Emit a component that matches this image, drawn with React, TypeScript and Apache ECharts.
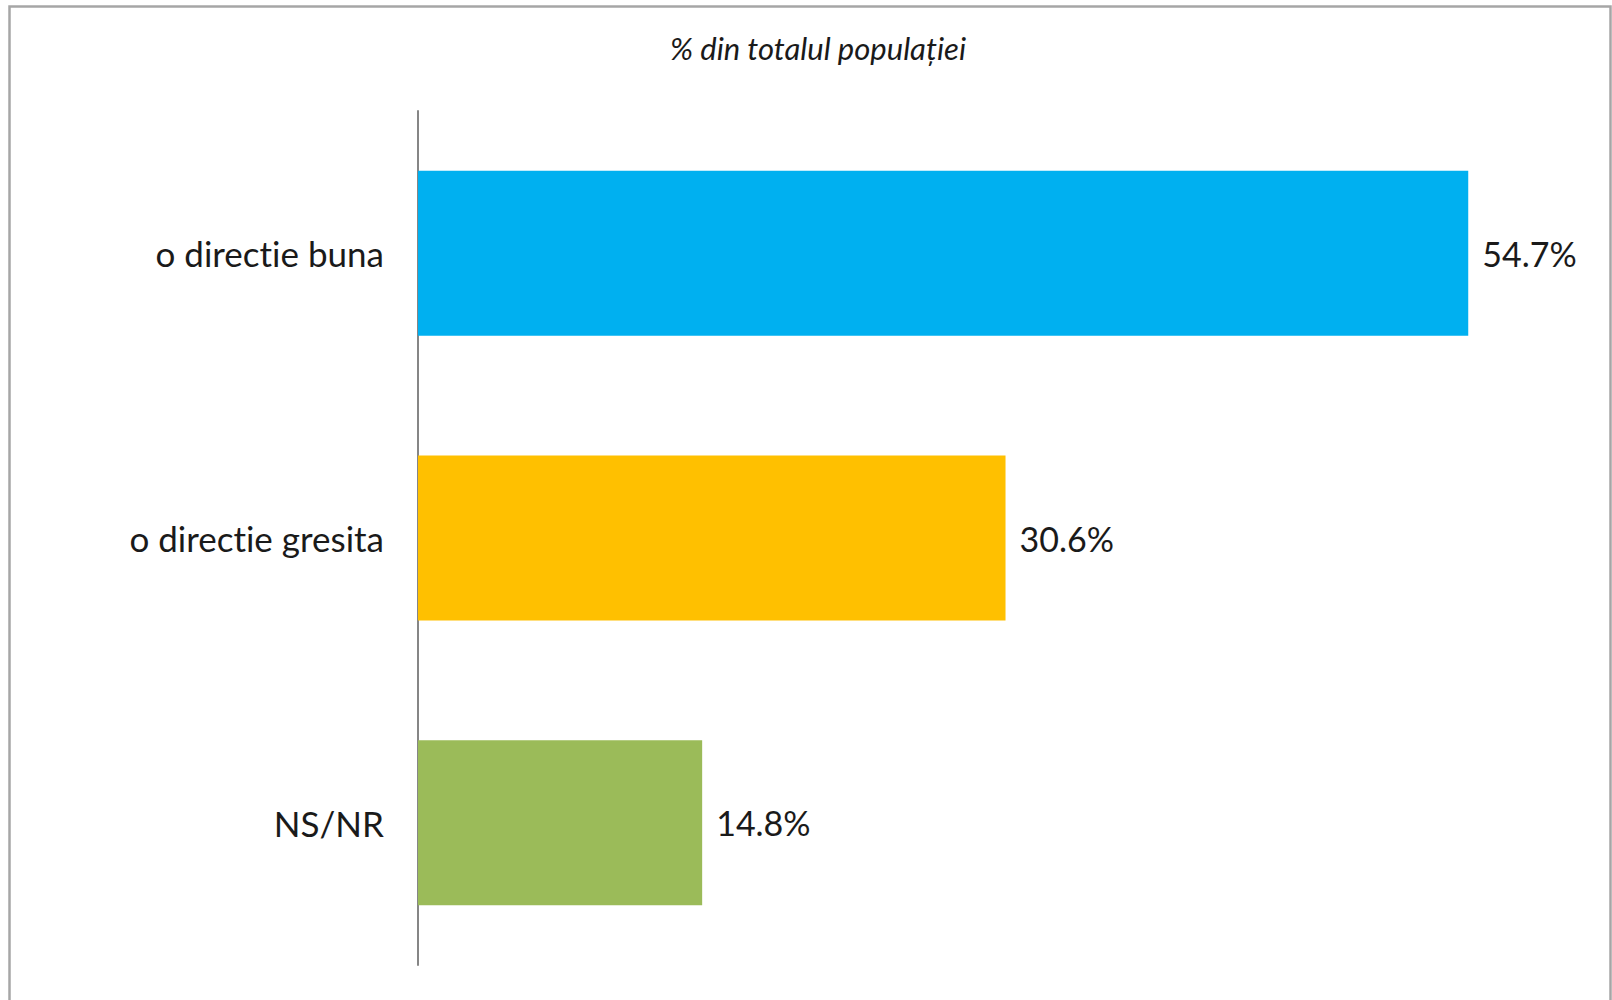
import React, { useEffect, useRef } from "react";
import * as echarts from "echarts";

const categories = ["o directie buna", "o directie gresita", "NS/NR"];
const values = [54.7, 30.6, 14.8];
const barColors = ["#00B0F0", "#FFC000", "#9BBB59"];
const titleText = "% din totalul populației";

export default function App() {
  const ref = useRef<HTMLDivElement>(null);
  useEffect(() => {
    if (!ref.current) return;
    const chart = echarts.init(ref.current, undefined, { renderer: "svg" });
    const font = "Lato, 'Noto Sans', sans-serif";
    chart.setOption({
      animation: false,
      backgroundColor: "#ffffff",
      title: {
        text: titleText,
        left: 813,
        top: 27,
        textAlign: "center",
        textStyle: {
          fontFamily: font,
          fontStyle: "italic",
          fontWeight: "normal",
          fontSize: 31,
          color: "#1a1a1a",
        },
      },
      graphic: [
        {
          type: "rect",
          shape: { x: 9.5, y: 6.5, width: 1601, height: 1010 },
          style: { fill: "none", stroke: "#a6a6a6", lineWidth: 2.5 },
          silent: true,
        },
      ],
      grid: { left: 418, top: 111, width: 1152, height: 854 },
      xAxis: {
        type: "value",
        min: 0,
        max: 60,
        show: false,
      },
      yAxis: {
        type: "category",
        data: categories,
        inverse: true,
        axisLine: { show: true, lineStyle: { color: "#868686", width: 2 } },
        axisTick: { show: false },
        axisLabel: {
          margin: 34,
          fontFamily: font,
          fontSize: 35,
          color: "#1a1a1a",
        },
      },
      series: [
        {
          type: "bar",
          barWidth: 165,
          data: values.map((v, i) => ({ value: v, itemStyle: { color: barColors[i] } })),
          label: {
            show: true,
            position: "right",
            distance: 14,
            formatter: (p: any) => p.value.toFixed(1) + "%",
            fontFamily: font,
            fontSize: 34,
            color: "#1a1a1a",
          },
        },
      ],
    });
    return () => chart.dispose();
  }, []);
  return (
    <>
      <style>{`svg text { font-variant-ligatures: none !important; font-feature-settings: "liga" 0, "clig" 0, "dlig" 0 !important; }`}</style>
      <div
        ref={ref}
        style={{ position: "fixed", left: 0, top: 0, width: 1612, height: 1000 }}
      />
    </>
  );
}
